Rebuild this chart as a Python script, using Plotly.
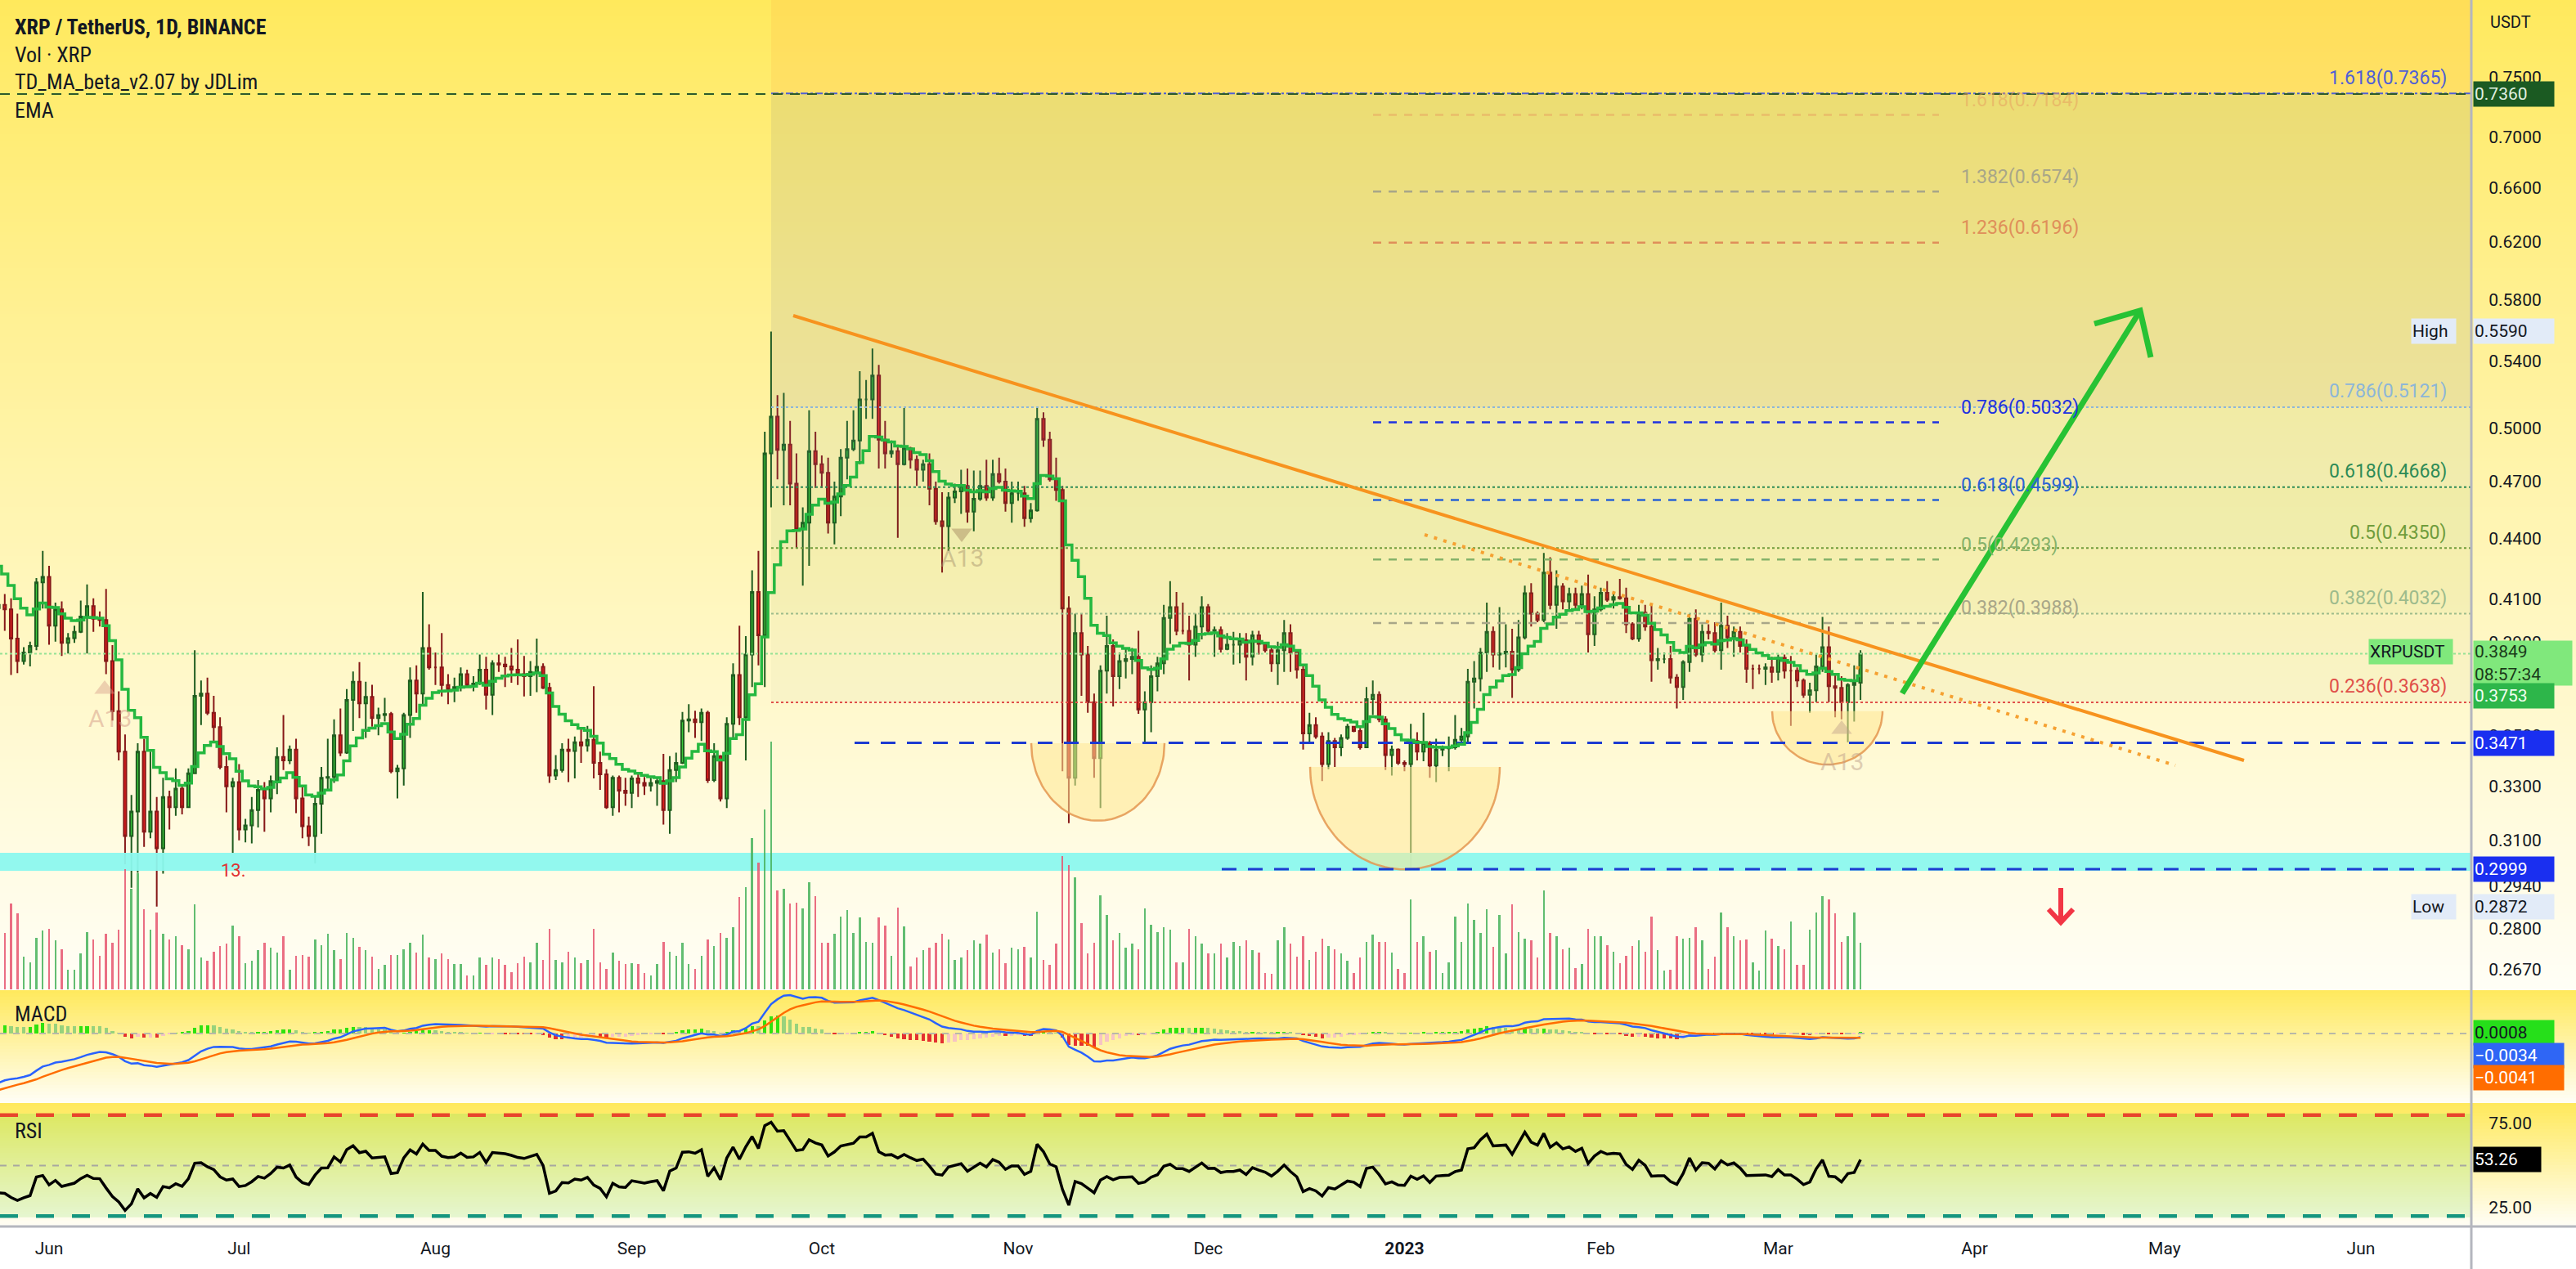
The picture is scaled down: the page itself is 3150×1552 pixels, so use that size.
import math
import pandas as pd
import plotly.graph_objects as go

W, H = 3150, 1552

# ---------------- data ----------------
start_date = "2022-05-24"
first_open = 0.4057
closes = [
    .4073, .4052, .3917, .3816, .3854, .3884, .4180, .4207, .3976, .4052,
    .3897, .3919, .3948, .4018, .4067, .4008, .4002, .3816, .3601, .3436,
    .3116, .3206, .3436, .3132, .3206, .3072, .3260, .3222, .3292, .3222,
    .3351, .3666, .3675, .3594, .3535, .3376, .3301, .3317, .3140, .3155,
    .3211, .3287, .3255, .3321, .3415, .3401, .3444, .3255, .3152, .3116,
    .3235, .3334, .3337, .3502, .3432, .3648, .3726, .3634, .3661, .3572,
    .3585, .3589, .3359, .3370, .3585, .3731, .3675, .3874, .3788, .3788,
    .3712, .3694, .3703, .3759, .3712, .3718, .3778, .3670, .3806, .3801,
    .3793, .3778, .3759, .3750, .3769, .3791, .3700, .3342, .3364, .3444,
    .3439, .3474, .3461, .3484, .3392, .3347, .3222, .3334, .3284, .3276,
    .3331, .3314, .3304, .3314, .3321, .3211, .3364, .3392, .3562, .3567,
    .3555, .3594, .3325, .3418, .3255, .3549, .3755, .3576, .3845, .4134,
    .3932, .4854, .5065, .4873, .4903, .4687, .4446, .4480, .4866, .4793,
    .4746, .4480, .4617, .4830, .4878, .4927, .5167, .5167, .5312, .4932,
    .4854, .4866, .4793, .4883, .4818, .4763, .4793, .4659, .4487, .4462,
    .4612, .4645, .4675, .4537, .4605, .4675, .4612, .4739, .4698, .4582,
    .4635, .4635, .4503, .4544, .5052, .4932, .4710, .4652, .4056, .3334,
    .3942, .3845, .3639, .3410, .3774, .3884, .3750, .3816, .3825, .3835,
    .3608, .3639, .3750, .3806, .4012, .4062, .3952, .3952, .3889, .3972,
    .4062, .3952, .3956, .3870, .3889, .3889, .3909, .3835, .3932, .3893,
    .3864, .3806, .3864, .3942, .3854, .3778, .3509, .3544, .3497, .3387,
    .3479, .3453, .3491, .3537, .3519, .3453, .3652, .3670, .3567, .3422,
    .3444, .3392, .3387, .3479, .3436, .3470, .3381, .3444, .3449, .3453,
    .3484, .3497, .3726, .3740, .3854, .3948, .3845, .3850, .3858, .3778,
    .3922, .4128, .4032, .4002, .4228, .4073, .4161, .4089, .4124, .4073,
    .4124, .3936, .4052, .4130, .4097, .4110, .4104, .3982, .3917, .4036,
    .3972, .3820, .3825, .3825, .3744, .3703, .3812, .4008, .3845, .3948,
    .3942, .3864, .3976, .3922, .3948, .3884, .3782, .3782, .3782, .3788,
    .3769, .3831, .3774, .3774, .3731, .3670, .3689, .3793, .3878, .3707,
    .3700, .3639, .3712, .3722, .3849,
]
highs = [
    .4093, .4124, .4104, .4032, .3878, .3903, .4201, .4336, .4261, .4083,
    .4089, .3942, .3976, .4093, .4170, .4104, .4042, .4149, .3887, .3685,
    .3505, .3268, .3470, .3488, .3436, .3260, .3334, .3284, .3370, .3301,
    .3370, .3864, .3731, .3744, .3666, .3576, .3418, .3334, .3387, .3179,
    .3260, .3325, .3317, .3342, .3453, .3585, .3461, .3488, .3301, .3187,
    .3260, .3376, .3488, .3567, .3612, .3694, .3770, .3812, .3726, .3713,
    .3616, .3657, .3598, .3384, .3594, .3788, .3797, .4134, .3982, .3854,
    .3942, .3759, .3744, .3788, .3778, .3750, .3845, .3835, .3820, .3845,
    .3835, .3874, .3913, .3839, .3816, .3917, .3806, .3722, .3422, .3470,
    .3488, .3497, .3526, .3540, .3707, .3436, .3367, .3342, .3342, .3334,
    .3342, .3354, .3337, .3334, .3337, .3427, .3418, .3432, .3598, .3630,
    .3603, .3612, .3603, .3470, .3422, .3576, .3806, .3976, .3928, .4239,
    .4336, .4977, .5590, .5193, .5206, .5040, .4854, .4560, .5103, .4977,
    .4842, .4830, .4698, .4878, .5040, .5103, .5338, .5285, .5480, .5378,
    .5040, .4927, .4903, .5116, .4891, .4842, .4818, .4854, .4698, .4640,
    .4640, .4687, .4763, .4770, .4758, .4758, .4818, .4818, .4830, .4770,
    .4698, .4698, .4675, .4582, .5124, .5090, .4977, .4830, .4675, .4114,
    .4032, .4032, .3884, .3675, .3797, .4022, .3913, .3854, .3874, .3874,
    .3952, .3685, .3797, .3835, .4073, .4186, .4134, .4083, .4022, .4032,
    .4114, .4077, .3972, .3972, .3942, .3948, .3942, .3942, .3952, .3952,
    .3897, .3884, .3903, .4002, .3982, .3864, .3797, .3594, .3576, .3514,
    .3514, .3491, .3505, .3549, .3540, .3532, .3703, .3731, .3685, .3580,
    .3461, .3449, .3401, .3549, .3514, .3594, .3479, .3488, .3461, .3497,
    .3585, .3532, .3782, .3816, .3874, .4083, .3972, .4062, .3982, .3962,
    .4002, .4165, .4176, .4042, .4325, .4304, .4239, .4176, .4155, .4155,
    .4165, .4218, .4114, .4155, .4186, .4134, .4197, .4155, .3992, .4073,
    .4073, .4073, .3874, .3854, .3884, .3759, .3820, .4032, .4052, .3982,
    .3982, .3992, .4083, .4022, .3972, .3972, .3913, .3801, .3801, .3806,
    .3835, .3845, .3845, .3839, .3788, .3740, .3722, .3845, .4016, .3972,
    .3759, .3750, .3720, .3797, .3864,
]
lows = [
    .4042, .3952, .3755, .3763, .3801, .3793, .3864, .4056, .3889, .3903,
    .3839, .3850, .3897, .3942, .3850, .3948, .3972, .3759, .3562, .3401,
    .3016, .2935, .2986, .3077, .3108, .2872, .2983, .3140, .3190, .3195,
    .3219, .3351, .3544, .3585, .3479, .3367, .3203, .3054, .3101, .3093,
    .3090, .3147, .3132, .3203, .3271, .3364, .3387, .3200, .3108, .3080,
    .3019, .3124, .3281, .3314, .3418, .3427, .3519, .3572, .3491, .3537,
    .3502, .3558, .3351, .3255, .3304, .3491, .3594, .3626, .3778, .3712,
    .3663, .3630, .3639, .3685, .3707, .3685, .3712, .3608, .3585, .3769,
    .3703, .3722, .3712, .3663, .3666, .3681, .3694, .3314, .3325, .3354,
    .3317, .3331, .3392, .3436, .3331, .3287, .3216, .3190, .3203, .3227,
    .3219, .3260, .3268, .3281, .3227, .3158, .3124, .3317, .3387, .3514,
    .3491, .3479, .3314, .3317, .3243, .3219, .3488, .3544, .3401, .3703,
    .3797, .3703, .4560, .4710, .4571, .4571, .4347, .4165, .4261, .4663,
    .4663, .4424, .4369, .4514, .4710, .4866, .4793, .5052, .5052, .4770,
    .4770, .4830, .4402, .4786, .4770, .4675, .4698, .4571, .4469, .4228,
    .4336, .4582, .4525, .4480, .4435, .4594, .4594, .4594, .4687, .4537,
    .4480, .4594, .4458, .4480, .4537, .4891, .4698, .4594, .3359, .3163,
    .3304, .3666, .3594, .3334, .3219, .3675, .3621, .3694, .3740, .3759,
    .3590, .3470, .3514, .3685, .3759, .3893, .3932, .3936, .3731, .3835,
    .3913, .3942, .3835, .3854, .3864, .3801, .3806, .3731, .3797, .3845,
    .3854, .3769, .3712, .3769, .3769, .3740, .3444, .3470, .3488, .3321,
    .3367, .3376, .3418, .3484, .3514, .3444, .3453, .3585, .3555, .3364,
    .3342, .3384, .3359, .2999, .3401, .3398, .3334, .3317, .3418, .3359,
    .3444, .3470, .3470, .3612, .3685, .3769, .3788, .3778, .3788, .3657,
    .3769, .3913, .3972, .3992, .3992, .4052, .3962, .4052, .4042, .4052,
    .4052, .3854, .3884, .4042, .4087, .4056, .4097, .3942, .3909, .3903,
    .3952, .3726, .3778, .3806, .3718, .3612, .3648, .3769, .3835, .3812,
    .3913, .3854, .3778, .3874, .3835, .3854, .3722, .3694, .3759, .3712,
    .3722, .3731, .3740, .3540, .3703, .3657, .3594, .3639, .3769, .3639,
    .3576, .3567, .3474, .3558, .3648,
]
volumes_m = [
    678, 689, 1049, 933, 403, 334, 636, 721, 742, 599,
    493, 244, 244, 440, 705, 615, 413, 678, 572, 731,
    1473, 1235, 1420, 986, 731, 943, 678, 615, 652, 546,
    493, 1039, 387, 350, 466, 530, 562, 784, 652, 318,
    350, 477, 572, 509, 456, 652, 244, 413, 424, 403,
    615, 546, 678, 477, 371, 689, 636, 519, 477, 403,
    254, 297, 424, 424, 493, 572, 456, 668, 387, 371,
    440, 371, 307, 307, 175, 175, 387, 297, 387, 371,
    297, 212, 318, 403, 334, 572, 360, 742, 360, 334,
    466, 387, 318, 360, 742, 334, 254, 456, 350, 307,
    318, 307, 201, 175, 307, 583, 466, 413, 572, 307,
    254, 413, 615, 530, 689, 636, 758, 1129, 1251, 1855,
    1553, 2205, 3037, 1208, 1235, 1049, 1060, 996, 1314, 1145,
    572, 572, 678, 890, 970, 689, 880, 583, 572, 880,
    784, 413, 1007, 774, 281, 387, 477, 509, 572, 678,
    615, 360, 387, 477, 599, 562, 668, 456, 493, 318,
    509, 493, 519, 387, 954, 360, 297, 562, 1632, 1526,
    1378, 811, 440, 572, 1155, 917, 599, 694, 509, 562,
    493, 996, 795, 705, 758, 731, 334, 334, 742, 652,
    562, 440, 440, 562, 387, 583, 530, 599, 477, 456,
    201, 191, 599, 758, 562, 403, 652, 360, 466, 625,
    530, 493, 440, 350, 201, 387, 583, 668, 583, 583,
    456, 254, 201, 1102, 583, 652, 466, 477, 201, 334,
    890, 583, 1049, 848, 689, 981, 519, 917, 440, 1039,
    705, 625, 599, 387, 1208, 689, 652, 493, 509, 265,
    307, 742, 652, 652, 546, 466, 318, 413, 530, 599,
    466, 890, 477, 228, 244, 652, 625, 636, 758, 599,
    254, 403, 943, 758, 652, 599, 615, 334, 228, 721,
    625, 530, 493, 827, 297, 297, 731, 943, 1145, 1102,
    933, 583, 652, 943, 572,
]

price_ticks = [0.75, 0.70, 0.66, 0.62, 0.58, 0.54, 0.50, 0.47, 0.44, 0.41,
               0.39, 0.35, 0.33, 0.31, 0.294, 0.28, 0.267]
month_ticks = ["2022-06-01", "2022-07-01", "2022-08-01", "2022-09-01", "2022-10-01",
               "2022-11-01", "2022-12-01", "2023-01-01", "2023-02-01", "2023-03-01",
               "2023-04-01", "2023-05-01", "2023-06-01"]
month_labels = ["Jun", "Jul", "Aug", "Sep", "Oct", "Nov", "Dec", "<b>2023</b>",
                "Feb", "Mar", "Apr", "May", "Jun"]

fib_main = [("1.618", 0.7365, "#4f5fd6"), ("0.786", 0.5121, "#8db6d8"),
            ("0.618", 0.4668, "#2e8b57"), ("0.5", 0.4350, "#6f9c3c"),
            ("0.382", 0.4032, "#9dbb8c"), ("0.236", 0.3638, "#e0504a")]
fib_ext = [("1.618", 0.7184, "rgba(232,160,96,0.55)"), ("1.382", 0.6574, "#a8a688"),
           ("1.236", 0.6196, "#df8f5a"), ("0.786", 0.5032, "#1f33e0"),
           ("0.618", 0.4599, "#2a63d4"), ("0.5", 0.4293, "#86b26a"),
           ("0.382", 0.3988, "#a8a688")]

# seeds for the indicators (state carried from history before the first visible bar)
ema10_seed = 0.430
ema12_seed, ema26_seed, signal_seed = 0.421, 0.470, -0.055
rsi_gain_seed, rsi_loss_seed = 0.0050, 0.0100

# ---------------- derived series ----------------
n = min(len(closes), len(highs), len(lows), len(volumes_m))
closes, highs, lows, volumes_m = closes[:n], highs[:n], lows[:n], volumes_m[:n]
dates = pd.date_range(start_date, periods=n, freq="D")
opens = [first_open] + closes[:-1]
highs = [max(h, o, c) for h, o, c in zip(highs, opens, closes)]
lows = [min(l, o, c) for l, o, c in zip(lows, opens, closes)]


def ema(values, period, seed):
    a = 2.0 / (period + 1)
    out, prev = [], seed
    for v in values:
        prev = prev + a * (v - prev)
        out.append(prev)
    return out


ema10 = ema(closes, 10, ema10_seed)
macd = [a - b for a, b in zip(ema(closes, 12, ema12_seed), ema(closes, 26, ema26_seed))]
signal = ema(macd, 9, signal_seed)
hist = [m - s for m, s in zip(macd, signal)]

rsi = []
ag, al = rsi_gain_seed, rsi_loss_seed
prev = first_open
for c in closes:
    ch = c - prev
    ag = (ag * 13 + max(ch, 0)) / 14
    al = (al * 13 + max(-ch, 0)) / 14
    rsi.append(100 - 100 / (1 + ag / al))
    prev = c

T0 = pd.Timestamp("2022-06-01")


def day(d):
    return T0 + pd.Timedelta(days=d)


PXD = 7.745  # px per day, Jun 1 2022 at x=60


def px2day(px):
    return (px - 60) / PXD


def py2price(py):
    return math.exp(math.log(0.75) - (py - 95) / 1056.0)


x_left, x_right = day(px2day(0)), day(px2day(3022))
ytop_price, ybot_price = py2price(0), py2price(1210)

# ---------------- figure ----------------
fig = go.Figure()
shapes = []
annotations = []


def hexrgb(h):
    h = h.lstrip('#')
    return tuple(int(h[i:i + 2], 16) for i in (0, 2, 4))


def grad(ytop, ybot, ctop, cbot, step=4, x0=0, x1=W, gamma=1.0):
    c1, c2 = hexrgb(ctop), hexrgb(cbot)
    y = ytop
    while y < ybot - 0.01:
        yb = min(y + step, ybot)
        t = ((y + yb) / 2 - ytop) / (ybot - ytop)
        t = t ** gamma
        col = 'rgb(%d,%d,%d)' % tuple(round(a + (b - a) * t) for a, b in zip(c1, c2))
        shapes.append(dict(type='rect', xref='paper', yref='paper', x0=x0 / W, x1=x1 / W,
                           y0=1 - (yb + 0.7) / H, y1=1 - y / H, fillcolor=col,
                           line=dict(width=0), layer='below'))
        y = yb


grad(0, 1211, '#ffe95c', '#fffef6', gamma=0.9)
grad(1211, 1349, '#ffe95c', '#fffef6')
grad(1349, 1500, '#ffe95c', '#fffef6')
# RSI band 80..20
rsi_top_px, rsi_bot_px = 1362, 1488
grad(rsi_top_px, rsi_bot_px, '#dde862', '#e5f6cf', step=3, x1=3022)

# ---- Fib zone fills (main fib) ----
fx0, fx1 = day(px2day(943)), x_right


def zone(p_lo, p_hi, color, xa=fx0, xb=fx1):
    fig.add_trace(go.Scatter(x=[xa, xb, xb, xa, xa], y=[p_lo, p_lo, p_hi, p_hi, p_lo],
                             fill='toself', fillcolor=color, line=dict(width=0),
                             mode='lines', hoverinfo='skip', showlegend=False))


zone(0.7365, ytop_price, 'rgba(255,170,60,0.16)')
zone(0.5121, 0.7365, 'rgba(110,120,140,0.13)')
zone(0.4668, 0.5121, 'rgba(120,170,200,0.10)')
zone(0.4350, 0.4668, 'rgba(46,139,87,0.07)')
zone(0.4032, 0.4350, 'rgba(110,160,60,0.07)')
zone(0.3638, 0.4032, 'rgba(150,170,120,0.06)')

# cyan support band
zone(0.2993, 0.3056, 'rgba(140,248,238,0.95)', xa=x_left, xb=x_right)


# cups (arc drawings)
def cup(d0, d1, p_top, p_bot):
    xs, ys = [], []
    lt, lb = math.log10(p_top), math.log10(p_bot)
    for i in range(61):
        t = math.pi * i / 60
        xs.append(day(d0 + (d1 - d0) * (1 - math.cos(t)) / 2))
        ys.append(10 ** (lt - (lt - lb) * math.sin(t)))
    fig.add_trace(go.Scatter(x=xs, y=ys, mode='lines', fill='toself',
                             fillcolor='rgba(255,232,150,0.55)',
                             line=dict(color='rgba(228,150,80,0.85)', width=2.5),
                             hoverinfo='skip', showlegend=False))


cup(px2day(1261), px2day(1424), 0.3470, 0.3172)
cup(px2day(1602), px2day(1834), 0.3376, 0.2998)
cup(px2day(2167), px2day(2302), 0.3601, 0.3385)


def hline(p, xa, xb, color, width=2, dash='dot', yaxis='y'):
    fig.add_trace(go.Scatter(x=[xa, xb], y=[p, p], mode='lines', yaxis=yaxis,
                             line=dict(color=color, width=width, dash=dash),
                             hoverinfo='skip', showlegend=False))


# main fib lines
for name, p, col in fib_main:
    hline(p, fx0, fx1, col, 2, 'dashdot' if name == '1.618' else 'dot')
    annotations.append(dict(x=2994 / W, xref='paper', xanchor='right', y=math.log10(p), yref='y',
                            yshift=19, text=f"{name}({p:.4f})", showarrow=False,
                            font=dict(size=23, color=col, family='Roboto')))
# extension fib lines
ex0, ex1 = day(px2day(1679)), day(px2day(2371))
for name, p, col in fib_ext:
    hline(p, ex0, ex1, col, 2.5, '10px,9px')
    annotations.append(dict(x=2396 / W, xref='paper', xanchor='left', y=math.log10(p), yref='y',
                            yshift=18, text=f"{name}({p:.4f})", showarrow=False,
                            font=dict(size=23, color=col, family='Roboto')))

# horizontal levels
hline(0.7360, x_left, x_right, '#2c5a2c', 2, '12px,9px')
hline(0.3471, day(px2day(1045)), x_right, '#1c3bd1', 3, '18px,14px')
hline(0.2999, day(px2day(1494)), x_right, '#1c3bd1', 3, '18px,14px')
hline(closes[-1], x_left, x_right, '#94e294', 2, 'dot')

# candles
fig.add_trace(go.Candlestick(
    x=dates, open=opens, high=highs, low=lows, close=closes,
    increasing=dict(line=dict(color='#1f5c1f', width=2), fillcolor='#3ccb3c'),
    decreasing=dict(line=dict(color='#861818', width=2), fillcolor='#ef1f1f'),
    whiskerwidth=0, showlegend=False, hoverinfo='skip'))

# EMA (stepped)
fig.add_trace(go.Scatter(x=dates, y=ema10, mode='lines', line=dict(color='#25b840', width=3.5, shape='hvh'),
                         hoverinfo='skip', showlegend=False))

# trend lines
fig.add_trace(go.Scatter(x=[day(px2day(970)), day(px2day(2744))], y=[py2price(386), py2price(930)],
                         mode='lines', line=dict(color='#f7931e', width=4), hoverinfo='skip', showlegend=False))
fig.add_trace(go.Scatter(x=[day(px2day(1742)), day(px2day(2660))], y=[py2price(654), py2price(936)],
                         mode='lines', line=dict(color='#f5a132', width=4, dash='4px,8px'),
                         hoverinfo='skip', showlegend=False))
# green arrow
ga = [(2326, 848), (2617, 380)]
fig.add_trace(go.Scatter(x=[day(px2day(p[0])) for p in ga], y=[py2price(p[1]) for p in ga],
                         mode='lines', line=dict(color='#27c234', width=7), hoverinfo='skip', showlegend=False))
gw = [(2561, 396), (2617, 380), (2630, 437)]
fig.add_trace(go.Scatter(x=[day(px2day(p[0])) for p in gw], y=[py2price(p[1]) for p in gw],
                         mode='lines', line=dict(color='#27c234', width=7), hoverinfo='skip', showlegend=False))
# red arrow
ra = [(2520, 1086), (2520, 1128)]
fig.add_trace(go.Scatter(x=[day(px2day(p[0])) for p in ra], y=[py2price(p[1]) for p in ra],
                         mode='lines', line=dict(color='#f23645', width=6), hoverinfo='skip', showlegend=False))
rw = [(2505, 1112), (2520, 1128), (2535, 1112)]
fig.add_trace(go.Scatter(x=[day(px2day(p[0])) for p in rw], y=[py2price(p[1]) for p in rw],
                         mode='lines', line=dict(color='#f23645', width=6), hoverinfo='skip', showlegend=False))

# TD markers
marks = [(128, 843, 'triangle-up', 'rgba(215,160,140,0.45)'),
         (1176, 652, 'triangle-down', 'rgba(160,130,90,0.45)'),
         (2252, 892, 'triangle-up', 'rgba(190,160,140,0.45)')]
for mx, my, sym, col in marks:
    fig.add_trace(go.Scatter(x=[day(px2day(mx))], y=[py2price(my)], mode='markers',
                             marker=dict(symbol=sym, size=22, color=col), hoverinfo='skip', showlegend=False))
for mx, my, col in [(134, 878, 'rgba(215,160,140,0.55)'), (1176, 682, 'rgba(170,150,110,0.5)'),
                    (2252, 931, 'rgba(190,160,140,0.5)')]:
    annotations.append(dict(x=day(px2day(mx)), y=math.log10(py2price(my)), xref='x', yref='y', text='A13',
                            showarrow=False, font=dict(size=30, color=col, family='Roboto')))
annotations.append(dict(x=day(px2day(285)), y=math.log10(py2price(1064)), xref='x', yref='y', text='13.',
                        showarrow=False, font=dict(size=22, color='#e03030', family='Roboto')))

# volume
vcol = ['rgba(70,178,90,0.85)' if c >= o else 'rgba(230,85,110,0.85)' for o, c in zip(opens, closes)]
fig.add_trace(go.Bar(x=dates, y=volumes_m, marker=dict(color=vcol, line=dict(width=0)),
                     width=0.32 * 86400000, yaxis='y2', hoverinfo='skip', showlegend=False))

# MACD
hcol = []
for i, h in enumerate(hist):
    hp = hist[i - 1] if i > 0 else h
    if h >= 0:
        hcol.append('#2fe20e' if h > hp else '#98d27c')
    else:
        hcol.append('#f6c4c4' if h > hp else '#e43030')
fig.add_trace(go.Bar(x=dates, y=hist, marker=dict(color=hcol, line=dict(width=0)),
                     width=0.55 * 86400000, yaxis='y3', hoverinfo='skip', showlegend=False))
hline(0, x_left, x_right, '#b8b8a8', 2, '8px,8px', yaxis='y3')
fig.add_trace(go.Scatter(x=dates, y=macd, mode='lines', line=dict(color='#2962ff', width=2.5),
                         yaxis='y3', hoverinfo='skip', showlegend=False))
fig.add_trace(go.Scatter(x=dates, y=signal, mode='lines', line=dict(color='#ff6d00', width=2.5),
                         yaxis='y3', hoverinfo='skip', showlegend=False))

# RSI
hline(80, x_left, x_right, '#e8452c', 4.5, '22px,22px', yaxis='y4')
hline(20, x_left, x_right, '#14967f', 4.5, '22px,22px', yaxis='y4')
hline(50, x_left, x_right, '#a8a8a0', 2, '8px,8px', yaxis='y4')
fig.add_trace(go.Scatter(x=dates, y=rsi, mode='lines', line=dict(color='#000000', width=3.5),
                         yaxis='y4', hoverinfo='skip', showlegend=False))

# separators
shapes.append(dict(type='line', xref='paper', yref='paper', x0=3022 / W, x1=3022 / W, y0=0, y1=1,
                   line=dict(color='#b4b6be', width=3)))
shapes.append(dict(type='line', xref='paper', yref='paper', x0=0, x1=1, y0=1 - 1500 / H, y1=1 - 1500 / H,
                   line=dict(color='#b4b6be', width=3)))

# ---- text: legends ----
tfont = 'Liberation Sans Narrow, Roboto Condensed, DejaVu Sans Condensed, Roboto'
for txt, py in [('<b>XRP / TetherUS, 1D, BINANCE</b>', 33), ('Vol · XRP', 67),
                ('TD_MA_beta_v2.07 by JDLim', 100), ('EMA', 135)]:
    annotations.append(dict(x=16 / W, y=1 - py / H, xref='paper', yref='paper', xanchor='left',
                            yanchor='middle', text=txt, showarrow=False,
                            font=dict(size=26, color='#131722', family=tfont)))
annotations.append(dict(x=16 / W, y=1 - 1240 / H, xref='paper', yref='paper', xanchor='left',
                        yanchor='middle', text='MACD', showarrow=False, font=dict(size=26, color='#131722', family=tfont)))
annotations.append(dict(x=16 / W, y=1 - 1383 / H, xref='paper', yref='paper', xanchor='left',
                        yanchor='middle', text='RSI', showarrow=False, font=dict(size=26, color='#131722', family=tfont)))
annotations.append(dict(x=3043 / W, y=1 - 27 / H, xref='paper', yref='paper', xanchor='left',
                        yanchor='middle', text='USDT', showarrow=False, font=dict(size=20, color='#131722', family='Roboto')))


def box(text, py, bg, fg, x=3024, xanchor='left', width=None, height=28, yref='paper'):
    d = dict(x=x / W, xref='paper', xanchor=xanchor, yanchor='middle', text=text, showarrow=False,
             bgcolor=bg, font=dict(size=21, color=fg, family='Roboto'), borderpad=1, height=height,
             align='left')
    if width:
        d['width'] = width
    if yref == 'paper':
        d.update(y=1 - py / H, yref='paper')
    else:
        d.update(y=math.log10(py), yref='y')
    annotations.append(d)


box('0.7360', 0.7360, '#1b5a22', '#e0f0e0', width=96, yref='y')
box('High', 0.5590, '#e2ebf8', '#131722', x=3004, xanchor='right', width=52, yref='y')
box('0.5590', 0.5590, '#e2ebf8', '#131722', width=96, yref='y')
box('XRPUSDT', 797, '#80e87c', '#131722', x=3000, xanchor='right', width=100)
box('0.3849<br>08:57:34', 811, '#80e87c', '#1a3a1a', width=118, height=52)
box('0.3753', 851, '#2db64a', '#f0fff0', width=96)
box('0.3471', 0.3471, '#1a2ff0', '#ffffff', width=96, yref='y')
box('0.2999', 0.2999, '#1a2ff0', '#ffffff', width=96, yref='y')
box('Low', 0.2872, '#e2ebf8', '#131722', x=3004, xanchor='right', width=52, yref='y')
box('0.2872', 0.2872, '#e2ebf8', '#131722', width=96, yref='y')
box('0.0008', 1263, '#26df1a', '#131722', width=96)
box('−0.0034', 1291, '#2f66f5', '#ffffff', width=108)
box('−0.0041', 1318, '#ff6d00', '#ffffff', width=108)
box('53.26', 1418, '#000000', '#ffffff', width=80)

fig.update_layout(
    width=W, height=H, margin=dict(l=0, r=0, t=0, b=0),
    paper_bgcolor='#ffffff', plot_bgcolor='rgba(0,0,0,0)',
    boxgap=0.42, bargap=0, barmode='overlay', showlegend=False,
    font=dict(family='Roboto', color='#131722'),
    shapes=shapes, annotations=annotations,
    xaxis=dict(domain=[0, 3022 / W], range=[x_left, x_right], type='date', anchor='y4',
               tickvals=month_ticks, ticktext=month_labels, ticks='outside', ticklen=8,
               tickcolor='rgba(0,0,0,0)', tickfont=dict(size=21, color='#131722', family='Roboto'),
               showgrid=False, zeroline=False, showline=False, rangeslider=dict(visible=False)),
    yaxis=dict(domain=[1 - 1210 / H, 1], type='log', range=[math.log10(ybot_price), math.log10(ytop_price)],
               side='right', anchor='x', tickvals=price_ticks, ticktext=[f"{v:.4f}" for v in price_ticks],
               ticks='outside', ticklen=16, tickcolor='rgba(0,0,0,0)',
               tickfont=dict(size=21, color='#131722', family='Roboto'),
               showgrid=False, zeroline=False, showline=False),
    yaxis2=dict(overlaying='y', range=[0, 12128], visible=False, anchor='x'),
    yaxis3=dict(domain=[1 - 1347 / H, 1 - 1212 / H], range=[-0.0639, 0.0400], anchor='x',
                showticklabels=False, showgrid=False, zeroline=False, showline=False),
    yaxis4=dict(domain=[1 - 1500 / H, 1 - 1350 / H], range=[13.8, 86.7], anchor='x', side='right',
                tickvals=[25, 75], ticktext=['25.00', '75.00'], ticks='outside', ticklen=16,
                tickcolor='rgba(0,0,0,0)', tickfont=dict(size=21, color='#131722', family='Roboto'),
                showgrid=False, zeroline=False, showline=False),
)

fig.write_html("out.html")
